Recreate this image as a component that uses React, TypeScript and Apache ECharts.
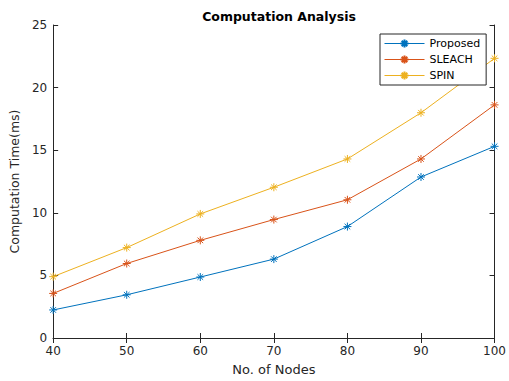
import React, { useEffect, useRef } from "react";
import * as echarts from "echarts";

const nodes = [40, 50, 60, 70, 80, 90, 100];
const proposed = [2.24, 3.45, 4.87, 6.3, 8.9, 12.86, 15.31];
const sleach = [3.56, 5.95, 7.8, 9.46, 11.04, 14.3, 18.62];
const spin = [4.9, 7.22, 9.91, 12.04, 14.3, 17.99, 22.34];
const seriesNames = ["Proposed", "SLEACH", "SPIN"];
const colors = ["#0072BD", "#D95319", "#EDB120"];

const asterisk =
  "path://M5,0L5,10M0,5L10,5M1.5,1.5L8.5,8.5M1.5,8.5L8.5,1.5";

const FONT = "DejaVu Sans, Verdana, sans-serif";

export default function App() {
  const ref = useRef<HTMLDivElement>(null);
  useEffect(() => {
    document.body.style.margin = "0";
    const chart = echarts.init(ref.current!, null, { renderer: "svg" });
    const datas = [proposed, sleach, spin];
    const axisCommon = {
      axisLine: { show: true, lineStyle: { color: "#262626", width: 1 } },
      axisTick: { show: true, inside: true, length: 5, lineStyle: { color: "#262626" } },
      splitLine: { show: false },
    };
    chart.setOption({
      animation: false,
      backgroundColor: "#ffffff",
      textStyle: { fontFamily: FONT },
      title: {
        text: "Computation Analysis",
        left: 274,
        textAlign: "center",
        top: 5,
        textStyle: { fontSize: 12.5, fontWeight: "bold", color: "#000", fontFamily: FONT },
      },
      legend: {
        data: seriesNames,
        orient: "vertical",
        left: 380,
        top: 34,
        width: 107,
        padding: [4, 6, 4, 4],
        itemGap: 5,
        itemWidth: 40,
        itemHeight: 10,
        borderColor: "#262626",
        borderWidth: 1,
        backgroundColor: "#fff",
        lineStyle: { width: 1 },
        textStyle: { fontSize: 11, color: "#000", fontFamily: FONT, padding: [0, 0, 0, 0] },
      },
      grid: { left: 51, right: 12, top: 25, bottom: 40, containLabel: false },
      xAxis: [
        {
          type: "value",
          min: 40,
          max: 100,
          interval: 10,
          position: "bottom",
          name: "No. of Nodes",
          nameLocation: "middle",
          nameGap: 25,
          nameTextStyle: { fontSize: 13, color: "#262626", fontFamily: FONT },
          axisLabel: { fontSize: 12, color: "#262626", margin: 7, fontFamily: FONT },
          ...axisCommon,
        },
        {
          type: "value",
          min: 40,
          max: 100,
          interval: 10,
          position: "top",
          axisLabel: { show: false },
          ...axisCommon,
        },
      ],
      yAxis: [
        {
          type: "value",
          min: 0,
          max: 25,
          interval: 5,
          position: "left",
          name: "Computation Time(ms)",
          nameLocation: "middle",
          nameGap: 29,
          nameTextStyle: { fontSize: 12.5, color: "#262626", fontFamily: FONT },
          axisLabel: { fontSize: 12, color: "#262626", margin: 6, fontFamily: FONT },
          ...axisCommon,
        },
        {
          type: "value",
          min: 0,
          max: 25,
          interval: 5,
          position: "right",
          axisLabel: { show: false },
          ...axisCommon,
        },
      ],
      series: seriesNames.map((name, i) => ({
        name,
        type: "line",
        xAxisIndex: 0,
        yAxisIndex: 0,
        data: nodes.map((x, j) => [x, datas[i][j]]),
        symbol: asterisk,
        symbolSize: 8,
        showAllSymbol: true,
        lineStyle: { color: colors[i], width: 1 },
        itemStyle: { color: "transparent", borderColor: colors[i], borderWidth: 1 },
        emphasis: { disabled: true },
      })),
    });
    return () => chart.dispose();
  }, []);
  return (
    <div
      ref={ref}
      style={{ position: "absolute", left: 0, top: 0, width: 509, height: 381 }}
    />
  );
}
